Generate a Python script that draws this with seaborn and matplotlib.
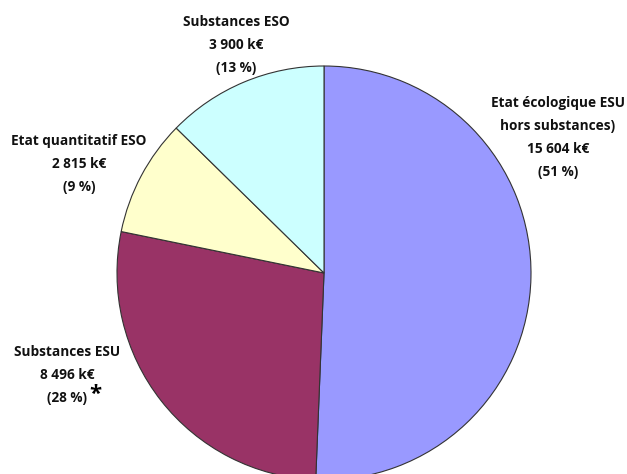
import matplotlib
matplotlib.use("Agg")
import matplotlib.pyplot as plt
import seaborn as sns

sns.set_theme(style="white")
plt.rcParams["font.family"] = ["Open Sans", "DejaVu Sans"]

# Budget split (k€), clockwise from 12 o'clock
categories = ["Etat écologique ESU\nhors substances)", "Substances ESU",
              "Etat quantitatif ESO", "Substances ESO"]
amounts = [15604, 8496, 2815, 3900]
amount_labels = ["15 604 k€", "8 496 k€", "2 815 k€", "3 900 k€"]
percent_labels = ["(51 %)", "(28 %)", "(9 %)", "(13 %)"]
colors = ["#9999FF", "#993366", "#FFFFCC", "#CCFFFF"]

W, H = 627, 474
fig = plt.figure(figsize=(W / 100, H / 100), dpi=100)
ax = fig.add_axes([0, 0, 1, 1])

cx, cy, r = 324, 273, 207
ax.pie(amounts, colors=colors, startangle=-90, counterclock=True,
       radius=r, center=(cx, cy), frame=True,
       wedgeprops=dict(edgecolor="#333333", linewidth=0.8))
ax.set_xlim(0, W)
ax.set_ylim(H, 0)
ax.set_aspect("equal")
ax.axis("off")

fs = 9.8
label_pos = [(558, 103), (67, 352), (79, 141), (236, 22)]
spacing = 23
for i, (x, y) in enumerate(label_pos):
    lines = categories[i].split("\n") + [amount_labels[i], percent_labels[i]]
    for j, line in enumerate(lines):
        ax.text(x, y + j * spacing, line, ha="center", va="center",
                fontsize=fs, fontweight="bold", color="#111111")

# footnote marker after the Substances ESU share
ax.text(89, 394, "*", ha="left", va="center", fontsize=16,
        fontweight="bold", color="black")

fig.savefig("out.png", dpi=100)
